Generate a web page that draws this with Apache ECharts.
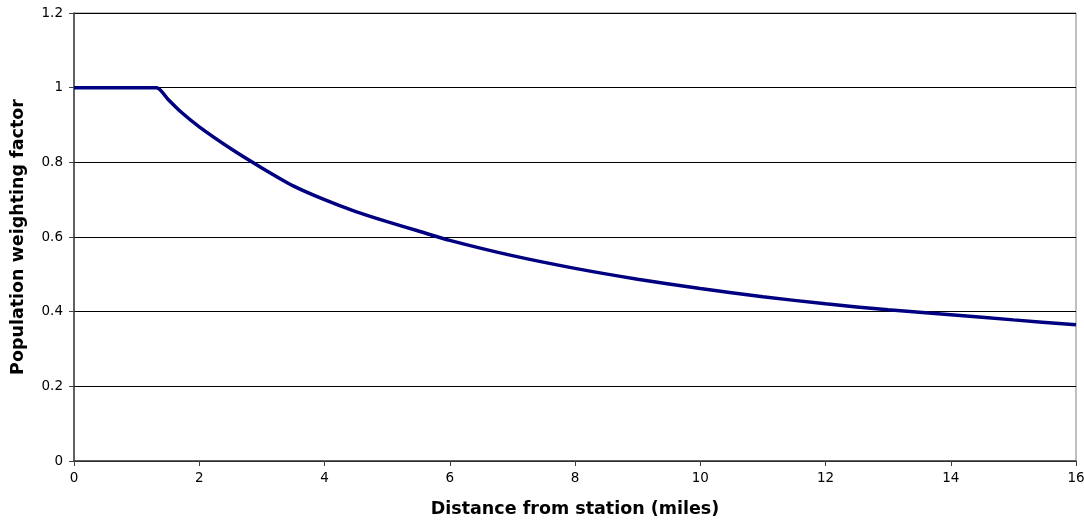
<!DOCTYPE html>
<html><head><meta charset="utf-8">
<script src="https://cdn.jsdelivr.net/npm/echarts@6/dist/echarts.min.js"></script>
<style>html,body{margin:0;padding:0;background:#fff}#c{width:1084px;height:521px}</style>
</head><body><div id="c"></div>
<script>
const distance = [0, 0.5, 1, 1.32, 1.5, 1.7, 2, 2.5, 3, 3.5, 4, 4.5, 5, 5.5, 6, 7, 8, 9, 10, 11, 12, 13, 14, 15, 16];
const weight   = [1, 1, 1, 1, 0.969, 0.936, 0.895, 0.837, 0.785, 0.737, 0.700, 0.668, 0.641, 0.616, 0.591, 0.550, 0.516, 0.487, 0.462, 0.440, 0.421, 0.405, 0.392, 0.378, 0.365];
const xTitle = 'Distance from station (miles)';
const yTitle = 'Population weighting factor';

const chart = echarts.init(document.getElementById('c'), null, {renderer: 'canvas'});
chart.setOption({
  animation: false,
  backgroundColor: '#fff',
  grid: {left: 74, right: 8, top: 13, bottom: 60, show: true, borderColor: '#808080', borderWidth: 1,
         backgroundColor: 'transparent', containLabel: false, outerBoundsMode: 'none'},
  xAxis: {
    type: 'value', min: 0, max: 16, interval: 2,
    name: xTitle, nameLocation: 'middle', nameGap: 39,
    nameTextStyle: {fontFamily: 'DejaVu Sans', fontWeight: 'bold', fontSize: 17.5, color: '#000'},
    axisLine: {show: true, lineStyle: {color: '#404040', width: 1.5}},
    axisTick: {show: true, length: 5, lineStyle: {color: '#404040'}},
    axisLabel: {fontFamily: 'DejaVu Sans', fontSize: 13.5, color: '#000', margin: 10},
    splitLine: {show: false}
  },
  yAxis: {
    type: 'value', min: 0, max: 1.2, interval: 0.2,
    name: yTitle, nameLocation: 'middle', nameGap: 47,
    nameTextStyle: {fontFamily: 'DejaVu Sans', fontWeight: 'bold', fontSize: 17.5, color: '#000'},
    axisLine: {show: true, lineStyle: {color: '#404040', width: 1.5}},
    axisTick: {show: true, length: 5, lineStyle: {color: '#404040'}},
    axisLabel: {fontFamily: 'DejaVu Sans', fontSize: 13.5, color: '#000', margin: 11,
      formatter: v => String(Math.round(v * 10) / 10)},
    splitLine: {show: true, lineStyle: {color: '#000', width: 1}}
  },
  series: [{
    type: 'line',
    data: distance.map((d, i) => [d, weight[i]]),
    smooth: 0.25,
    showSymbol: false,
    lineStyle: {color: '#000080', width: 3.5}
  }]
});
</script></body></html>
